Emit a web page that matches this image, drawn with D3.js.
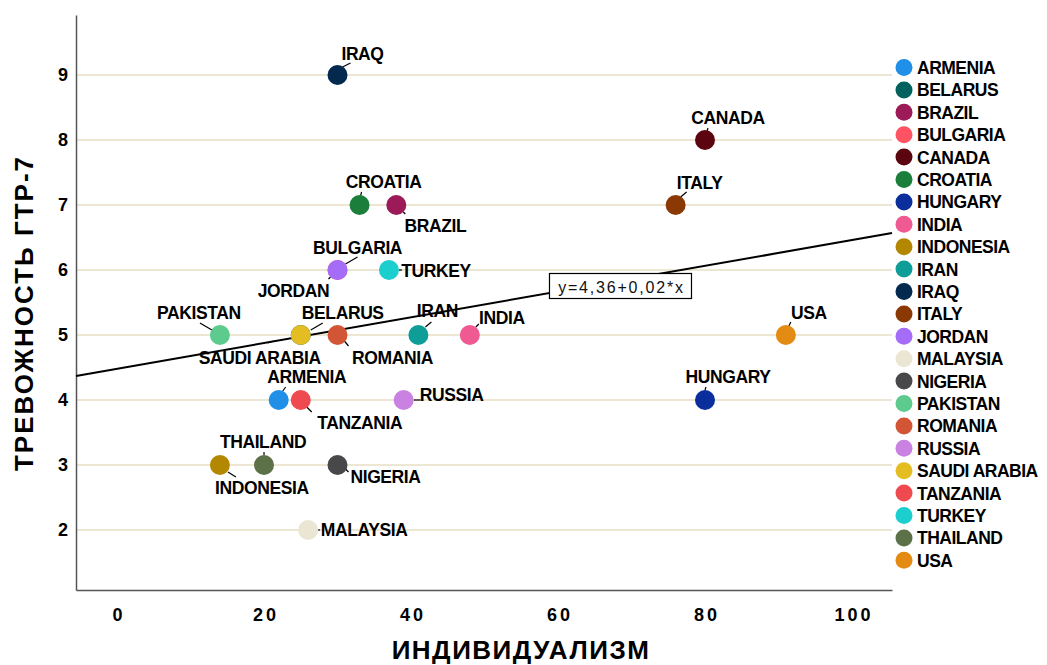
<!DOCTYPE html>
<html>
<head>
<meta charset="utf-8">
<script src="https://cdn.jsdelivr.net/npm/d3@7/dist/d3.min.js"></script>
<style>
  html, body { margin: 0; padding: 0; background: #fff; }
  svg { display: block; font-family: "Liberation Sans", Arial, sans-serif; }
</style>
</head>
<body>
<svg id="chart" width="1047" height="665"></svg>
<script>
// ---- data ----
const countries = ["ARMENIA","BELARUS","BRAZIL","BULGARIA","CANADA","CROATIA","HUNGARY","INDIA","INDONESIA","IRAN","IRAQ","ITALY","JORDAN","MALAYSIA","NIGERIA","PAKISTAN","ROMANIA","RUSSIA","SAUDI ARABIA","TANZANIA","TURKEY","THAILAND","USA"];
const individualism = [22, 25, 38, 30, 80, 33, 80, 48, 14, 41, 30, 76, 30, 26, 30, 14, 30, 39, 25, 25, 37, 20, 91];
const anxiety =       [4,  5,  7,  6,  8,  7,  4,  5,  3,  5,  9,  7,  6,  2,  3,  5,  5,  4,  5,  4,  6,  3,  5];
const colors = ["#1f8fe8","#00615e","#9c1a57","#ff5262","#5b0511","#1b7f3b","#0a2e9c","#ee5a91","#b38700","#0e9e97","#03294f","#8b3904","#a56cf7","#ebe5d3","#48484b","#5ccb8d","#d25535","#c981e2","#e3bd22","#ee4a4f","#1ccfce","#5d7148","#e38b12"];
const xTicks = [0, 20, 40, 60, 80, 100];
const yTicks = [2, 3, 4, 5, 6, 7, 8, 9];
const fitIntercept = 4.48;
const fitSlope = 0.0198;
const fitLabel = "y=4,36+0,02*x";
const xTitle = "ИНДИВИДУАЛИЗМ";
const yTitle = "ТРЕВОЖНОСТЬ ГТР-7";

// ---- label layout (pixel offsets from point: label dx, dy; leader x1,y1,x2,y2) ----
const labelLayout = {
  "IRAQ": [25,-15, 5,-8,13,-12],
  "CANADA": [23,-16, 2,-9,3,-12],
  "ITALY": [24,-16, 5,-8,11,-13],
  "CROATIA": [24,-17, 1,-9,2,-13],
  "BRAZIL": [39,27, 7,7,9,9],
  "BULGARIA": [20,-16, 8,-6,20,-13],
  "JORDAN": [-44,27, -7,7,-9,9],
  "TURKEY": [47,7, 10,0,13,0],
  "PAKISTAN": [-21,-16, -8,-5,-20,-12],
  "BELARUS": [42,-16, 10,-5,22,-12],
  "SAUDI ARABIA": [-41,29, -27,6,-33,8],
  "ROMANIA": [55,29, 6,5,11,11],
  "IRAN": [19,-18, 7,-8,13,-13],
  "INDIA": [32,-11, 6,-8,9,-11],
  "USA": [23,-16, 3,-9,5,-13],
  "ARMENIA": [28,-17, 4,-9,7,-13],
  "TANZANIA": [59,29, 5,6,11,12],
  "RUSSIA": [48,1, 10,0,17,0],
  "HUNGARY": [23,-17, 0,-10,1,-13],
  "THAILAND": [-1,-17, 0,-10,0,-13],
  "INDONESIA": [42,29, 8,7,16,12],
  "NIGERIA": [48,18, 8,4,11,7],
  "MALAYSIA": [56,6, 10,0,12,0]
};

const svg = d3.select("#chart");
const L = 76, R = 892, T = 15, B = 590;
const x = d3.scaleLinear().domain([-5.58, 105.44]).range([L, R]);
const y = d3.scaleLinear().domain([1.077, 9.923]).range([B, T]);

// gridlines
svg.append("g").selectAll("line").data(yTicks).join("line")
  .attr("x1", L).attr("x2", R)
  .attr("y1", d => y(d)).attr("y2", d => y(d))
  .attr("stroke", "#ede6d3").attr("stroke-width", 2);

// axes
const xAxis = d3.axisBottom(x).tickValues(xTicks).tickSize(0).tickPadding(18).tickFormat(d3.format("d"));
const gx = svg.append("g").attr("transform", `translate(0,${B})`).call(xAxis);
gx.select(".domain").attr("stroke", "#555").attr("stroke-width", 1.5);
gx.selectAll("text").attr("font-size", 18).attr("font-weight", "bold").attr("fill", "#000")
  .attr("letter-spacing", "3px").attr("dx", "1.5px")
  .attr("font-family", "'Liberation Sans', Arial, sans-serif");

const yAxis = d3.axisLeft(y).tickValues(yTicks).tickSize(0).tickPadding(8).tickFormat(d3.format("d"));
const gy = svg.append("g").attr("transform", `translate(${L},0)`).call(yAxis);
gy.select(".domain").attr("stroke", "#555").attr("stroke-width", 1.5);
gy.selectAll("text").attr("font-size", 18).attr("font-weight", "bold").attr("fill", "#000")
  .attr("font-family", "'Liberation Sans', Arial, sans-serif");

// regression line
const xd = x.domain();
svg.append("line")
  .attr("x1", x(xd[0])).attr("y1", y(fitIntercept + fitSlope * xd[0]))
  .attr("x2", x(xd[1])).attr("y2", y(fitIntercept + fitSlope * xd[1]))
  .attr("stroke", "#000").attr("stroke-width", 2);

// points data
const pts = countries.map((c, i) => ({name: c, x: individualism[i], y: anxiety[i], color: colors[i]}));

// leader lines
svg.append("g").selectAll("line").data(pts).join("line")
  .attr("x1", d => x(d.x) + labelLayout[d.name][2])
  .attr("y1", d => y(d.y) + labelLayout[d.name][3])
  .attr("x2", d => x(d.x) + labelLayout[d.name][4])
  .attr("y2", d => y(d.y) + labelLayout[d.name][5])
  .attr("stroke", "#000").attr("stroke-width", 1.2);

// points
svg.append("g").selectAll("circle").data(pts).join("circle")
  .attr("cx", d => x(d.x)).attr("cy", d => y(d.y)).attr("r", 10)
  .attr("fill", d => d.color);

// labels
svg.append("g").selectAll("text").data(pts).join("text")
  .attr("x", d => x(d.x) + labelLayout[d.name][0])
  .attr("y", d => y(d.y) + labelLayout[d.name][1])
  .attr("text-anchor", "middle")
  .attr("font-size", 17.5).attr("font-weight", "bold").attr("letter-spacing", "-0.4px")
  .attr("fill", "#000")
  .text(d => d.name);

// fit label box
const bx = x(68.5), by = 286;
const fg = svg.append("g");
fg.append("rect").attr("x", bx - 71).attr("y", by - 12.5).attr("width", 142).attr("height", 25)
  .attr("fill", "#fff").attr("stroke", "#000").attr("stroke-width", 1.2);
fg.append("text").attr("x", bx + 1).attr("y", by + 7).attr("text-anchor", "middle")
  .attr("font-size", 16).attr("letter-spacing", "1.8px").attr("fill", "#111")
  .text(fitLabel);

// legend
const lg = svg.append("g");
const rows = lg.selectAll("g").data(pts).join("g")
  .attr("transform", (d, i) => `translate(904,${67.5 + i * 22.4})`);
rows.append("circle").attr("r", 8.5).attr("fill", d => d.color);
rows.append("text").attr("x", 13).attr("y", 6.5)
  .attr("font-size", 17.5).attr("font-weight", "bold").attr("letter-spacing", "-0.5px")
  .attr("fill", "#000").text(d => d.name);

// axis titles
svg.append("text").attr("x", 521).attr("y", 659).attr("text-anchor", "middle")
  .attr("font-size", 26).attr("font-weight", "bold").attr("letter-spacing", "1.5px")
  .attr("fill", "#000").text(xTitle);
svg.append("text").attr("transform", "translate(33,313) rotate(-90)").attr("text-anchor", "middle")
  .attr("font-size", 26).attr("font-weight", "bold").attr("letter-spacing", "2px")
  .attr("fill", "#000").text(yTitle);
</script>
</body>
</html>
